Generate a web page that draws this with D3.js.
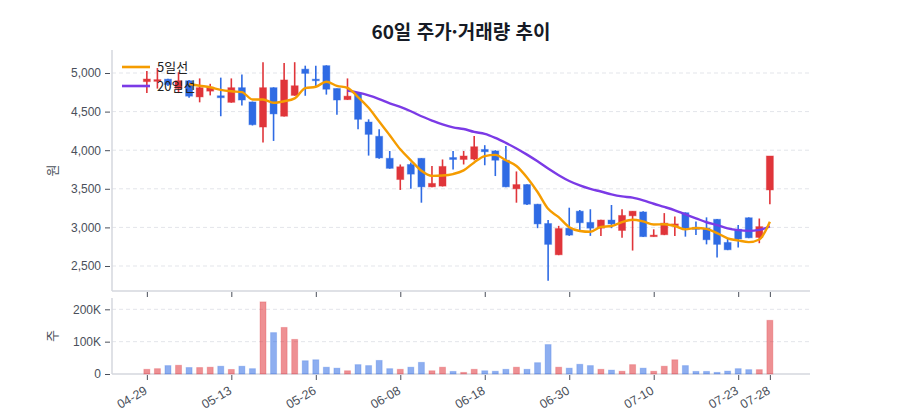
<!DOCTYPE html>
<html lang="ko">
<head>
    <meta charset="UTF-8" />
    <title>60일 주가·거래량 추이</title>
    <script src="https://d3js.org/d3.v7.min.js"></script>
    <style>
        body, html {
            margin: 0;
            padding: 0;
            background: #fff;
            font-family: "Noto Sans CJK KR", "Noto Sans", sans-serif;
        }
        .grid line {
            stroke: #e3e5ea;
            stroke-dasharray: 4,3;
        }
        .axis text {
            font-size: 12px;
            fill: #4a4f5a;
        }
        .axis path {
            display: none;
        }
        .axis line {
            stroke: #4a4f5a;
        }
        .frame {
            stroke: #d4d7de;
            stroke-width: 1.5px;
        }
    </style>
</head>
<body>
    <div id="chart"></div>

    <script>
        // 거래일 (MM-DD)
        const dates = [
            "04-29", "04-30", "05-01", "05-02", "05-07", "05-08", "05-09", "05-12",
            "05-13", "05-14", "05-15", "05-16", "05-19", "05-20", "05-21", "05-22",
            "05-26", "05-27", "05-28", "05-29", "05-30", "06-02", "06-04", "06-05",
            "06-08", "06-09", "06-10", "06-11", "06-12", "06-13", "06-16", "06-17",
            "06-18", "06-19", "06-20", "06-23", "06-24", "06-25", "06-26", "06-27",
            "06-30", "07-01", "07-02", "07-03", "07-04", "07-07", "07-08", "07-09",
            "07-10", "07-11", "07-14", "07-15", "07-16", "07-17", "07-18", "07-21",
            "07-23", "07-24", "07-25", "07-28"
        ];

        const open = [
            4888, 4892, 4920, 4800, 4900, 4690, 4765, 4705, 4620, 4810,
            4625, 4300, 4810, 4440, 4710, 5050, 4920, 5095, 4800, 4655,
            4740, 4365, 4180, 3895, 3620, 3815, 3895, 3525, 3535, 3905,
            3880, 3885, 4010, 3990, 3870, 3500, 3555, 3300, 3050, 2645,
            2990, 3210, 3065, 2990, 3095, 2960, 3150, 3200, 2880, 2905,
            3020, 3190, 3000, 2990, 3105, 2805, 2975, 3125, 2870, 3485
        ];
        const high = [
            5026, 5065, 4927, 5010, 4910, 4930, 4860, 4940, 4930, 4980,
            4630, 5140, 4815, 5130, 5140, 5095, 5095, 5100, 4800, 4930,
            4745, 4400, 4270, 3990, 3815, 3840, 3895, 3795, 3880, 3990,
            3990, 4185, 4065, 4000, 4055, 3725, 3560, 3305, 3095, 3020,
            3255, 3225, 3235, 3100, 3290, 3235, 3210, 3210, 2975, 3185,
            3140, 3195, 3075, 3130, 3110, 2860, 3030, 3130, 3115, 3925
        ];
        const low = [
            4741, 4798, 4832, 4740, 4680, 4620, 4710, 4440, 4615, 4580,
            4320, 4100, 4120, 4435, 4705, 4705, 4820, 4720, 4460, 4650,
            4270, 3930, 3890, 3760, 3485, 3500, 3320, 3520, 3530, 3750,
            3815, 3870, 3805, 3665, 3520, 3320, 3290, 2990, 2310, 2640,
            2890, 2965, 2890, 2890, 2990, 2865, 2700, 2875, 2880, 2900,
            2890, 2880, 2900, 2780, 2610, 2705, 2740, 2860, 2795, 3300
        ];
        const close = [
            4922, 4914, 4850, 4900, 4700, 4810, 4815, 4680, 4810, 4650,
            4330, 4810, 4470, 4910, 4835, 4995, 4900, 4790, 4650, 4700,
            4400, 4205, 3900, 3765, 3785, 3690, 3525, 3570, 3790, 3880,
            3925, 4045, 3980, 3870, 3525, 3555, 3300, 3045, 2780, 2985,
            2900, 3060, 2990, 3095, 3045, 3155, 3210, 2880, 2900, 3055,
            3045, 2990, 2975, 2840, 2780, 2710, 2850, 2865, 3010, 3925
        ];
        const volume = [
            14500, 16500, 26000, 27000, 20000, 20000, 21000, 24000, 14000, 24000,
            16500, 223000, 128000, 144000, 107000, 41000, 44000, 21000, 18000, 10000,
            29000, 26000, 42000, 16500, 14500, 21000, 36000, 10000, 21000, 8000,
            5000, 14500, 10000, 8500, 14500, 21000, 14500, 35000, 91000, 21000,
            18000, 30000, 26000, 14500, 12000, 8500, 29000, 18000, 8500, 24000,
            44000, 26000, 8000, 8000, 5000, 9000, 16500, 13500, 13500, 166000
        ];

        const priceTicks = [2500, 3000, 3500, 4000, 4500, 5000];
        const volumeTicks = [0, 100000, 200000];
        const dateTickIndex = [0, 8, 16, 24, 32, 40, 48, 56, 59];

        const UP = "#e0353a";
        const DOWN = "#2f6be4";
        const MA5_COLOR = "#f59c00";
        const MA20_COLOR = "#7b3ae6";

        const width = 900;
        const height = 420;
        const left = 112, right = 810;
        const priceTop = 50, priceBottom = 291;
        const volTop = 298, volBottom = 374;

        const candles = dates.map((d, i) => ({
            i: i,
            date: d,
            open: open[i],
            high: high[i],
            low: low[i],
            close: close[i],
            volume: volume[i]
        }));

        function movingAvg(n) {
            return candles.map((c, i) => {
                if (i < n - 1) return null;
                return {i: i, v: d3.mean(close.slice(i - n + 1, i + 1))};
            }).filter(d => d);
        }
        const ma5 = movingAvg(5);
        const ma20 = movingAvg(20);

        const svg = d3.select("#chart").append("svg")
            .attr("width", width)
            .attr("height", height);

        const x = d3.scaleLinear()
            .domain([-3.3, 62.8])
            .range([left, right]);

        const y = d3.scaleLinear()
            .domain([2176, 5298])
            .range([priceBottom, priceTop]);

        const yVol = d3.scaleLinear()
            .domain([0, 235000])
            .range([volBottom, volTop]);

        // 제목
        svg.append("text")
            .attr("x", (left + right) / 2)
            .attr("y", 39)
            .attr("text-anchor", "middle")
            .style("font-size", "19px")
            .style("font-weight", "bold")
            .style("fill", "#161b26")
            .text("60일 주가·거래량 추이");

        // 격자
        svg.append("g")
            .attr("class", "grid")
            .selectAll("line")
            .data(priceTicks)
            .join("line")
            .attr("x1", left).attr("x2", right)
            .attr("y1", d => y(d)).attr("y2", d => y(d));

        svg.append("g")
            .attr("class", "grid")
            .selectAll("line")
            .data(volumeTicks.slice(1))
            .join("line")
            .attr("x1", left).attr("x2", right)
            .attr("y1", d => yVol(d)).attr("y2", d => yVol(d));

        // 축 테두리
        svg.append("line").attr("class", "frame")
            .attr("x1", left).attr("x2", left).attr("y1", priceTop).attr("y2", priceBottom);
        svg.append("line").attr("class", "frame")
            .attr("x1", left).attr("x2", right).attr("y1", priceBottom).attr("y2", priceBottom);
        svg.append("line").attr("class", "frame")
            .attr("x1", left).attr("x2", left).attr("y1", volTop).attr("y2", volBottom);
        svg.append("line").attr("class", "frame")
            .attr("x1", left).attr("x2", right).attr("y1", volBottom).attr("y2", volBottom);

        // y 축
        svg.append("g")
            .attr("class", "axis")
            .attr("transform", `translate(${left - 2},0)`)
            .call(d3.axisLeft(y).tickValues(priceTicks).tickSize(5).tickPadding(4)
                .tickFormat(d3.format(",")));

        svg.append("g")
            .attr("class", "axis")
            .attr("transform", `translate(${left - 2},0)`)
            .call(d3.axisLeft(yVol).tickValues(volumeTicks).tickSize(5).tickPadding(4)
                .tickFormat(d => d === 0 ? "0" : d3.format("~s")(d).replace("k", "K")));

        // x 축 (가격 패널 눈금만)
        svg.append("g")
            .attr("class", "axis")
            .attr("transform", `translate(0,${priceBottom + 1})`)
            .call(d3.axisBottom(x).tickValues(dateTickIndex).tickSize(5).tickFormat(""));

        const xAxis = svg.append("g")
            .attr("class", "axis")
            .attr("transform", `translate(0,${volBottom + 1})`)
            .call(d3.axisBottom(x).tickValues(dateTickIndex).tickSize(5)
                .tickFormat(i => dates[i]));

        xAxis.selectAll("text")
            .attr("text-anchor", "end")
            .attr("y", 0)
            .attr("dy", "0.75em")
            .attr("transform", "translate(-4,10) rotate(-30)")
            .style("font-size", "12.5px");

        // 축 제목
        svg.append("text")
            .attr("transform", `translate(57,${(priceTop + priceBottom) / 2}) rotate(-90)`)
            .attr("text-anchor", "middle")
            .style("font-size", "13px")
            .style("fill", "#4a4f5a")
            .text("원");

        svg.append("text")
            .attr("transform", `translate(57,${(volTop + volBottom) / 2}) rotate(-90)`)
            .attr("text-anchor", "middle")
            .style("font-size", "13px")
            .style("fill", "#4a4f5a")
            .text("주");

        const color = d => d.close >= d.open ? UP : DOWN;
        const bodyW = 7;
        const volW = 6;

        // 거래량 막대
        svg.append("g")
            .selectAll("rect")
            .data(candles)
            .join("rect")
            .attr("x", d => x(d.i) - volW / 2)
            .attr("width", volW)
            .attr("y", d => yVol(d.volume))
            .attr("height", d => yVol(0) - yVol(d.volume))
            .attr("fill", color)
            .attr("fill-opacity", 0.55)
            .attr("stroke", color)
            .attr("stroke-opacity", 0.25)
            .attr("stroke-width", 1);

        // 캔들
        const candle = svg.append("g")
            .selectAll("g")
            .data(candles)
            .join("g");

        candle.append("line")
            .attr("x1", d => x(d.i)).attr("x2", d => x(d.i))
            .attr("y1", d => y(d.high)).attr("y2", d => y(d.low))
            .attr("stroke", color)
            .attr("stroke-width", 1.6);

        candle.append("rect")
            .attr("x", d => x(d.i) - bodyW / 2)
            .attr("width", bodyW)
            .attr("y", d => y(Math.max(d.open, d.close)))
            .attr("height", d => Math.max(1.5, Math.abs(y(d.open) - y(d.close))))
            .attr("fill", color)
            .attr("stroke", color)
            .attr("stroke-opacity", 0.4)
            .attr("stroke-width", 1);

        // 이동평균선
        const line = d3.line()
            .x(d => x(d.i))
            .y(d => y(d.v))
            .curve(d3.curveMonotoneX);

        svg.append("path")
            .datum(ma20)
            .attr("fill", "none")
            .attr("stroke", MA20_COLOR)
            .attr("stroke-width", 2.4)
            .attr("d", line);

        svg.append("path")
            .datum(ma5)
            .attr("fill", "none")
            .attr("stroke", MA5_COLOR)
            .attr("stroke-width", 2.4)
            .attr("d", line);

        // 범례
        const legendItems = [
            {name: "5일선", color: MA5_COLOR},
            {name: "20일선", color: MA20_COLOR}
        ];
        const legend = svg.append("g")
            .selectAll("g")
            .data(legendItems)
            .join("g")
            .attr("transform", (d, i) => `translate(122,${67 + i * 19})`);

        legend.append("line")
            .attr("x1", 0).attr("x2", 28)
            .attr("stroke", d => d.color)
            .attr("stroke-width", 2.6);

        legend.append("text")
            .attr("x", 35)
            .attr("dy", "0.35em")
            .style("font-size", "13px")
            .style("fill", "#222")
            .text(d => d.name);
    </script>
</body>
</html>
